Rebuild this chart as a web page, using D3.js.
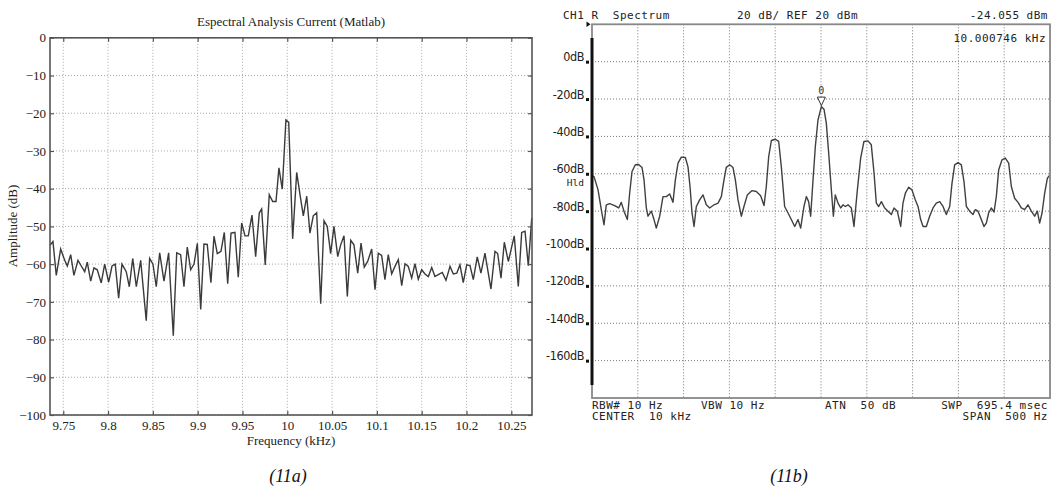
<!DOCTYPE html>
<html><head><meta charset="utf-8">
<script src="https://cdn.jsdelivr.net/npm/d3@7"></script>
<style>
body{margin:0;background:#fff;}
svg{display:block;}
</style></head>
<body>
<svg id="chart" width="1056" height="488"></svg>
<script>
// ---------- Left chart (11a) data ----------
const leftFreq = [9.7352,9.7385,9.7422,9.7471,9.7516,9.7545,9.7583,9.7619,9.7664,9.7701,9.7739,9.7768,9.7806,9.7843,9.7879,9.7924,9.7962,9.8007,9.8044,9.8080,9.8118,9.8155,9.8203,9.8237,9.8275,9.8315,9.8364,9.8426,9.8464,9.8501,9.8538,9.8576,9.8624,9.8676,9.8728,9.8766,9.8810,9.8847,9.8884,9.8922,9.8959,9.8996,9.9034,9.9070,9.9107,9.9148,9.9182,9.9219,9.9260,9.9297,9.9335,9.9372,9.9416,9.9453,9.9491,9.9528,9.9565,9.9606,9.9647,9.9688,9.9714,9.9754,9.9799,9.9837,9.9874,9.9907,9.9944,9.9985,10.0016,10.0060,10.0105,10.0142,10.0179,10.0217,10.0253,10.0290,10.0328,10.0373,10.0410,10.0446,10.0484,10.0521,10.0563,10.0596,10.0633,10.0670,10.0708,10.0744,10.0786,10.0823,10.0859,10.0897,10.0942,10.0979,10.1016,10.1053,10.1090,10.1127,10.1165,10.1202,10.1239,10.1277,10.1314,10.1350,10.1388,10.1425,10.1462,10.1500,10.1537,10.1574,10.1612,10.1648,10.1685,10.1730,10.1771,10.1816,10.1853,10.1891,10.1927,10.1964,10.2002,10.2039,10.2076,10.2120,10.2161,10.2206,10.2273,10.2318,10.2348,10.2385,10.2422,10.2467,10.2533,10.2578,10.2616,10.2653,10.2690,10.2728];
const leftAmp = [-55,-54,-63,-56,-59,-60.5,-57.5,-63,-59,-60.5,-62,-59.5,-64.5,-61,-61.5,-65,-60,-64.8,-60.5,-60,-69,-60,-62,-66,-58.5,-66,-59,-75,-58.5,-60,-66,-57,-64.5,-57,-79,-57,-57.5,-66,-55.5,-61.5,-60,-54.5,-72,-54.7,-54.8,-64.9,-52.6,-57.2,-56.6,-51.6,-65.2,-51.8,-51.6,-63.5,-49.1,-52.5,-52.5,-47,-58,-46.4,-45.4,-60.2,-41.6,-43.4,-43.4,-34.5,-40.1,-21.8,-22.4,-53.3,-35.7,-41.6,-47.2,-42,-51.8,-47.2,-46.4,-70.5,-48.5,-50,-57.2,-50,-58,-54.9,-52.5,-68.6,-53.7,-54.9,-62.4,-54.4,-60.8,-59.3,-56,-66.8,-57.1,-57.7,-64.1,-57.5,-62.6,-60.6,-58.8,-65.7,-59.9,-60.6,-63.7,-59.9,-64,-61.5,-62.6,-63.3,-60.9,-63.3,-62.8,-62.2,-64.3,-60.6,-62.6,-62.4,-60.2,-64.9,-60.2,-60.4,-64.1,-58.1,-62.4,-57.1,-66.6,-56.6,-57.2,-63.7,-54.2,-59.3,-52.5,-65.9,-51.6,-51.3,-60.4,-47.8];
const leftXTicks = [9.75,9.8,9.85,9.9,9.95,10,10.05,10.1,10.15,10.2,10.25];
const leftXTickLabels = ["9.75","9.8","9.85","9.9","9.95","10","10.05","10.1","10.15","10.2","10.25"];
const leftYTicks = [0,-10,-20,-30,-40,-50,-60,-70,-80,-90,-100];

// ---------- Right chart (11b) data ----------
const rightFreq = [9.7500,9.7522,9.7566,9.7602,9.7631,9.7656,9.7693,9.7747,9.7791,9.7820,9.7849,9.7886,9.7911,9.7937,9.7973,9.8009,9.8046,9.8068,9.8093,9.8111,9.8148,9.8177,9.8202,9.8239,9.8275,9.8311,9.8348,9.8384,9.8410,9.8439,9.8475,9.8519,9.8548,9.8570,9.8592,9.8614,9.8639,9.8675,9.8712,9.8748,9.8785,9.8832,9.8876,9.8912,9.8941,9.8966,9.9003,9.9039,9.9065,9.9094,9.9130,9.9159,9.9196,9.9247,9.9294,9.9341,9.9378,9.9403,9.9429,9.9458,9.9501,9.9538,9.9567,9.9603,9.9640,9.9676,9.9713,9.9749,9.9778,9.9814,9.9840,9.9865,9.9887,9.9913,9.9938,9.9967,10.0004,10.0033,10.0058,10.0084,10.0113,10.0135,10.0156,10.0186,10.0215,10.0240,10.0266,10.0295,10.0331,10.0360,10.0397,10.0433,10.0469,10.0513,10.0549,10.0579,10.0604,10.0630,10.0659,10.0695,10.0731,10.0768,10.0797,10.0833,10.0870,10.0895,10.0921,10.0957,10.0993,10.1030,10.1059,10.1088,10.1114,10.1150,10.1186,10.1223,10.1259,10.1296,10.1332,10.1368,10.1405,10.1430,10.1459,10.1496,10.1532,10.1561,10.1587,10.1623,10.1659,10.1685,10.1714,10.1750,10.1779,10.1805,10.1830,10.1859,10.1889,10.1914,10.1940,10.1976,10.2012,10.2049,10.2078,10.2114,10.2151,10.2187,10.2223,10.2260,10.2296,10.2333,10.2362,10.2387,10.2413,10.2442,10.2471,10.2500];
const rightAmp = [-61,-61.5,-68.6,-79.3,-87.3,-76.6,-76,-77,-78.3,-75.3,-80,-84.5,-70.4,-58.8,-55.2,-55,-56.6,-63.3,-78.3,-82.7,-80,-84.5,-89.1,-82.7,-72.2,-72.2,-70.8,-75.3,-63.3,-54.3,-51.1,-51.3,-56.3,-66.8,-81,-88.2,-77.5,-74,-71.3,-76.6,-78.3,-76.6,-75.7,-72.2,-63.3,-56.6,-55.2,-56.6,-63.3,-74,-82.7,-77.5,-71.3,-69,-69.5,-71.8,-77,-66.8,-50.8,-42.2,-41.5,-42.7,-56.3,-77.5,-81,-84.5,-88.2,-84.5,-89.1,-77.5,-72.2,-74.9,-82.7,-63.3,-45.5,-31.2,-24.1,-25.5,-32.9,-49,-68.6,-82.7,-71.3,-75.7,-78.3,-76.6,-77.5,-76.6,-78.3,-88.2,-68.6,-51.6,-42.7,-42.4,-44.5,-59.6,-75.7,-77.5,-74.9,-78.3,-80,-81.8,-78.3,-80,-88.2,-75.7,-70.4,-67.2,-68.6,-74,-77.5,-84.5,-88.2,-88.2,-82.7,-78.3,-75.7,-74.9,-77.5,-81.8,-77.5,-65.1,-55.2,-54,-55.2,-64.2,-77.5,-80,-81.8,-79.2,-80,-84.5,-88.2,-86.4,-81,-78.3,-80.5,-72.2,-57.8,-52.5,-51.6,-54.3,-66.8,-73.1,-75.3,-78.3,-79.2,-76.6,-80,-82.7,-80,-86.4,-81,-70.4,-62.4,-60.6];
const rightXGrid = [9.8,9.85,9.9,9.95,10,10.05,10.1,10.15,10.2];
const rightYTicks = [0,-20,-40,-60,-80,-100,-120,-140,-160];
const markerFreq = 10.0004, markerAmp = -24.055;

const SERIF = '"Liberation Serif","Times New Roman","DejaVu Serif",serif';
const MONO = '"DejaVu Sans Mono","Liberation Mono",monospace';
const NARROW = '"Liberation Sans Narrow","DejaVu Sans Condensed","Liberation Sans",sans-serif';

const svg = d3.select("#chart");
svg.append("rect").attr("width",1056).attr("height",488).attr("fill","#fff");

// ================= LEFT =================
const xL = d3.scaleLinear().domain([9.7352, 10.2731]).range([50, 532]);
const yL = d3.scaleLinear().domain([-100, 0]).range([415, 37.8]);
const gL = svg.append("g");

gL.selectAll(".vg").data(leftXTicks).join("line")
  .attr("x1",d=>xL(d)).attr("x2",d=>xL(d)).attr("y1",yL(0)).attr("y2",yL(-100))
  .attr("stroke","#a8a8a8").attr("stroke-width",1).attr("stroke-dasharray","1,2");
gL.selectAll(".hg").data(leftYTicks).join("line")
  .attr("x1",xL.range()[0]).attr("x2",xL.range()[1]).attr("y1",d=>yL(d)).attr("y2",d=>yL(d))
  .attr("stroke","#a8a8a8").attr("stroke-width",1).attr("stroke-dasharray","1,2");

const lineL = d3.line().x(d=>xL(d[0])).y(d=>yL(d[1]));
gL.append("path").datum(leftFreq.map((f,i)=>[f,leftAmp[i]]))
  .attr("d",lineL).attr("fill","none").attr("stroke","#3a3a3a").attr("stroke-width",1.4);

gL.append("rect").attr("x",50).attr("y",yL(0)).attr("width",482).attr("height",yL(-100)-yL(0))
  .attr("fill","none").attr("stroke","#555").attr("stroke-width",1.6);

const axB = gL.append("g").attr("transform",`translate(0,${yL(-100)})`)
  .call(d3.axisBottom(xL).tickValues(leftXTicks).tickSize(-4).tickPadding(6)
    .tickFormat((d,i)=>leftXTickLabels[i]));
const axT = gL.append("g").attr("transform",`translate(0,${yL(0)})`)
  .call(d3.axisTop(xL).tickValues(leftXTicks).tickSize(-4).tickFormat(""));
const axLft = gL.append("g").attr("transform",`translate(50,0)`)
  .call(d3.axisLeft(yL).tickValues(leftYTicks).tickSize(-4).tickPadding(4));
const axR = gL.append("g").attr("transform",`translate(532,0)`)
  .call(d3.axisRight(yL).tickValues(leftYTicks).tickSize(-4).tickFormat(""));
[axB,axT,axLft,axR].forEach(a=>{
  a.select(".domain").remove();
  a.attr("font-family",null);
  a.selectAll("line").attr("stroke","#555").attr("stroke-width",1.2);
  a.selectAll("text").style("font-family",SERIF).style("font-size","13px").attr("fill","#222");
});

const serifText = (x,y,t,size)=>gL.append("text").style("font-family",SERIF).style("font-size",(size||13)+"px")
  .attr("x",x).attr("y",y).attr("text-anchor","middle").attr("fill","#222").text(t);
serifText(291,26,"Espectral Analysis Current (Matlab)");
serifText(291,445,"Frequency (kHz)");
serifText(0,0,"Amplitude (dB)").attr("transform","translate(17,226) rotate(-90)");

// ================= RIGHT =================
const xR = d3.scaleLinear().domain([9.75, 10.25]).range([592, 1050]);
const yR = d3.scaleLinear().domain([-180, 20]).range([398, 24.3]);
const gR = svg.append("g");

gR.selectAll(".vg").data(rightXGrid).join("line")
  .attr("x1",d=>xR(d)).attr("x2",d=>xR(d)).attr("y1",yR(20)).attr("y2",yR(-180))
  .attr("stroke","#777").attr("stroke-width",1).attr("stroke-dasharray","1,2");
gR.selectAll(".hg").data(rightYTicks).join("line")
  .attr("x1",592).attr("x2",1050).attr("y1",d=>yR(d)).attr("y2",d=>yR(d))
  .attr("stroke","#777").attr("stroke-width",1).attr("stroke-dasharray","1,2");

const lineR = d3.line().x(d=>xR(d[0])).y(d=>yR(d[1]));
gR.append("path").datum(rightFreq.map((f,i)=>[f,rightAmp[i]]))
  .attr("d",lineR).attr("fill","none").attr("stroke","#404040").attr("stroke-width",1.4)
  .attr("stroke-linejoin","round");

gR.append("rect").attr("x",592).attr("y",yR(20)).attr("width",458).attr("height",yR(-180)-yR(20))
  .attr("fill","none").attr("stroke","#888").attr("stroke-width",1.8);
gR.append("rect").attr("x",590.5).attr("y",38).attr("width",3).attr("height",347).attr("fill","#111");
gR.append("path").attr("d",`M586.5,21.5 L590.5,24.3 L586.5,27 Z`).attr("fill","#111");

const axRY = gR.append("g").attr("transform","translate(589,0)")
  .call(d3.axisLeft(yR).tickValues(rightYTicks).tickSize(3).tickPadding(2).tickFormat(d=>d+"dB"));
axRY.select(".domain").remove();
axRY.attr("font-family",null);
axRY.selectAll("line").attr("stroke","#111").attr("stroke-width",3);
axRY.selectAll("text").style("font-family",NARROW).style("font-size","12.5px").attr("fill","#222")
  .attr("dy","-0.08em").attr("letter-spacing","-0.4");

const monoText = (x,y,t,anchor,size)=>gR.append("text").style("font-family",MONO)
  .style("font-size",(size||11)+"px").style("white-space","pre").attr("xml:space","preserve")
  .attr("x",x).attr("y",y).attr("text-anchor",anchor||"start").attr("letter-spacing","0.5")
  .attr("fill","#222").text(t);
monoText(584,186,"Hld","end",9.5).attr("letter-spacing","0");
monoText(563,19,"CH1 R  Spectrum");
monoText(737,19,"20 dB/ REF 20 dBm");
monoText(1048,19,"-24.055 dBm","end");
monoText(1046,42,"10.000746 kHz","end");
monoText(592,409,"RBW# 10 Hz");
monoText(592,420,"CENTER  10 kHz");
monoText(701,409,"VBW 10 Hz");
monoText(825,409,"ATN  50 dB");
monoText(1048,409,"SWP  695.4 msec","end");
monoText(1048,420,"SPAN  500 Hz","end");

const mx = xR(markerFreq), my = yR(markerAmp);
gR.append("path").attr("d",`M${mx-4},${my-9.5} L${mx+4},${my-9.5} L${mx},${my-1} Z`)
  .attr("fill","#fff").attr("stroke","#333").attr("stroke-width",1);
monoText(mx,my-13,"0","middle",10).attr("letter-spacing","0").attr("fill","#333");

// captions
[["(11a)",288],["(11b)",789]].forEach(([t,x])=>{
  svg.append("text").style("font-family",SERIF).style("font-size","18px").style("font-style","italic")
    .attr("x",x).attr("y",482).attr("text-anchor","middle").attr("fill","#111").text(t);
});
</script>
</body></html>
